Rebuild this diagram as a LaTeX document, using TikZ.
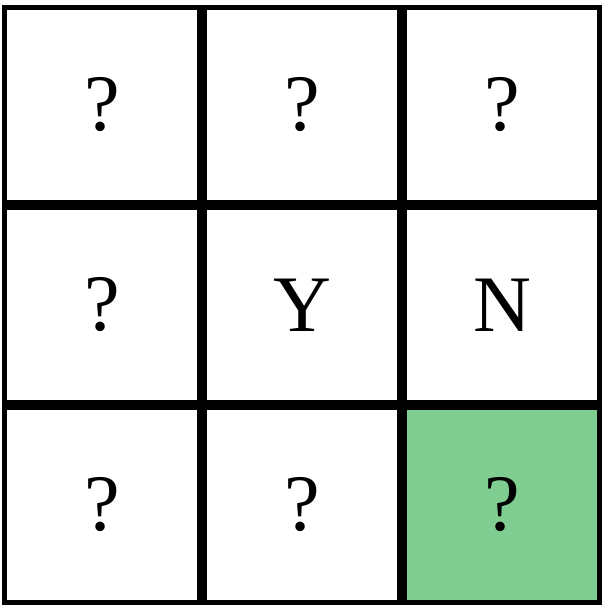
\documentclass[tikz,border=0pt]{standalone}
\usepackage{fontspec}
\setmainfont{Liberation Serif}
\definecolor{cellgreen}{RGB}{127,205,145}
\begin{document}
\begin{tikzpicture}[node distance=2cm,
  cell/.style={draw, line width=0.05cm, minimum size=1.95cm, inner sep=0pt,
    font=\fontsize{22.8}{27}\selectfont}]
\useasboundingbox (0,0) rectangle (6.06,6.11);
\node [cell] (tl) at (1.02,5.06) {?};
\node [cell, right of=tl] (tm) {?};
\node [cell, right of=tm] (tr) {?};
\node [cell, below of=tl] (ml) {?};
\node [cell, right of=ml] (mm) {Y};
\node [cell, right of=mm] (mr) {N};
\node [cell, below of=ml] (bl) {?};
\node [cell, right of=bl] (bm) {?};
\node [cell, fill=cellgreen, right of=bm] (br) {?};
\end{tikzpicture}
\end{document}
